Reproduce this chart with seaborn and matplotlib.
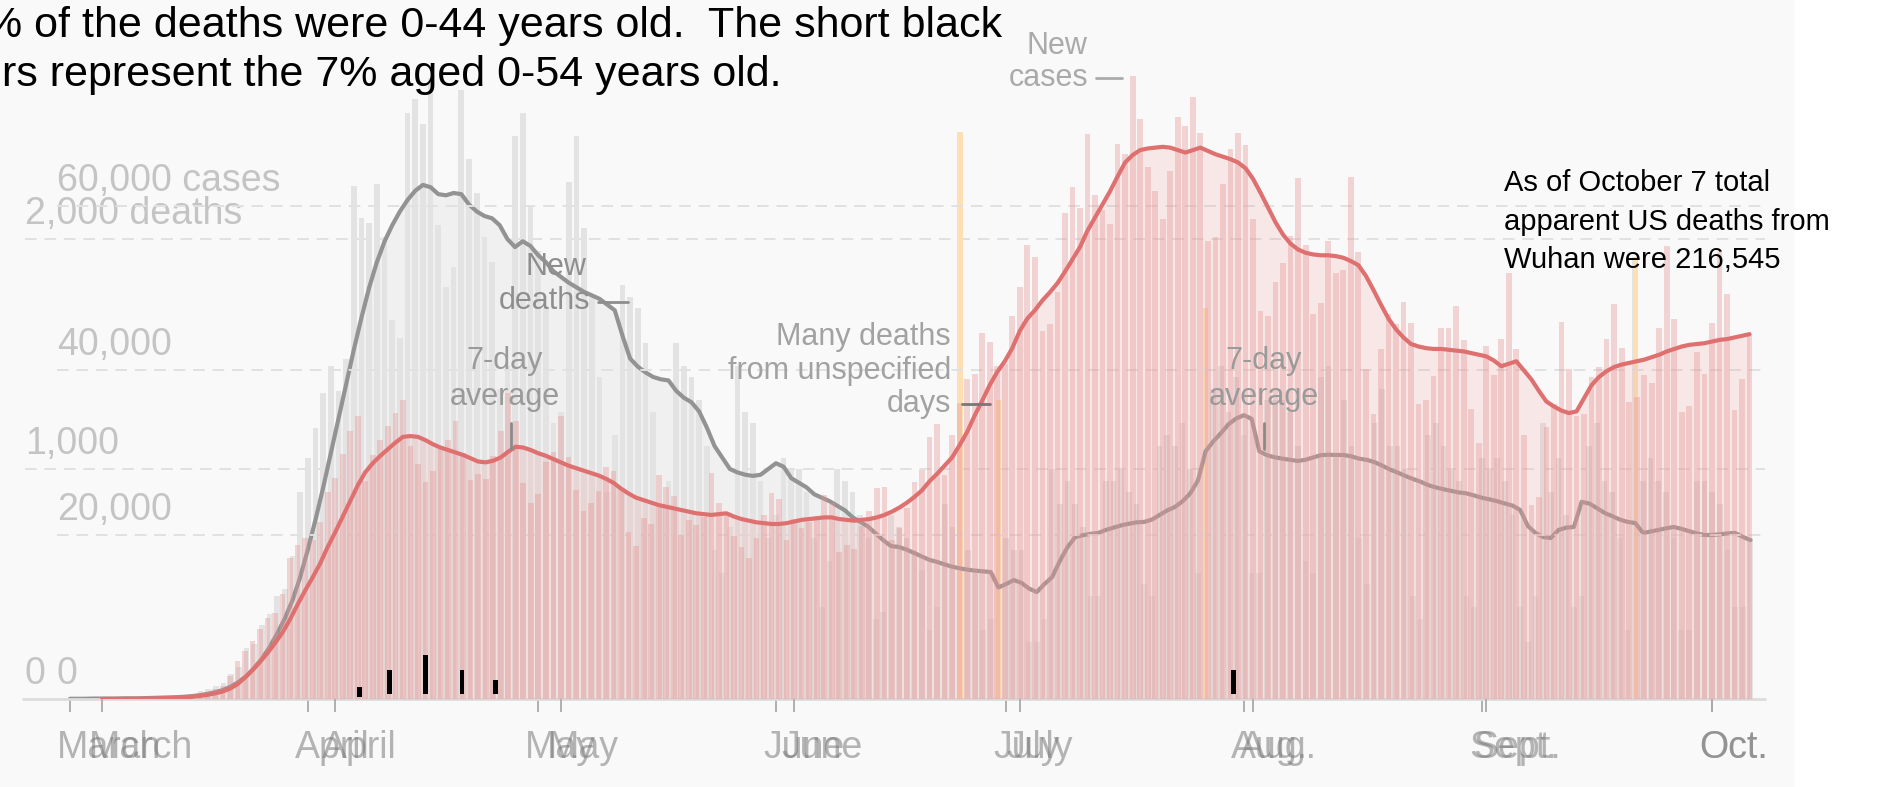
import numpy as np
import seaborn as sns
import matplotlib.pyplot as plt
from matplotlib import transforms
from matplotlib.lines import Line2D

# day 0 = March 1 2020 (a Sunday), last day = Oct. 6
month_starts = [0, 31, 61, 92, 122, 153, 184, 214]
month_names = ["March", "April", "May", "June", "July", "Aug.", "Sept.", "Oct."]

cases_daily = [
    10, 20, 20, 30, 50, 80, 100,
    110, 170, 250, 320, 430, 600, 700,
    800, 1200, 1600, 2800, 4600, 5800, 7000,
    8500, 9900, 10500, 12800, 17200, 18700, 19600,
    19400, 21500, 25200, 26900, 29800, 32600, 34400,
    26500, 29700, 31500, 33200, 34800, 36400, 30800,
    28600, 26400, 27800, 30700, 31500, 33800, 29900,
    26600, 27400, 26800, 29600, 32600, 37200, 33800,
    26300, 23900, 24900, 28800, 30100, 34500, 29400,
    25400, 22900, 23800, 25300, 28200, 27800, 25600,
    20300, 18600, 22000, 21300, 27200, 25800, 24700,
    19900, 21800, 21200, 22200, 27500, 23800, 22600,
    19800, 18500, 17100, 19600, 22400, 25100, 24300,
    19400, 21900, 20800, 21500, 22100, 24800, 23800,
    17900, 18700, 18300, 21000, 22900, 25700, 25800,
    19400, 20800, 23300, 26400, 27900, 31900, 33500,
    27200, 32100, 36000, 38900, 39600, 44600, 43400,
    40500, 40800, 46600, 50100, 55200, 53800, 44800,
    45600, 49500, 59200, 62300, 59700, 68800, 61300,
    59500, 57800, 67600, 66300, 75800, 70600, 64800,
    61800, 58400, 64300, 70800, 69700, 73300, 68900,
    55700, 56200, 62700, 66900, 68900, 67400, 58400,
    47200, 46600, 50700, 53100, 56400, 63400, 55300,
    46800, 48200, 55700, 51900, 52200, 63500, 54400,
    40200, 34700, 42600, 46900, 45600, 48300, 45800,
    35900, 36400, 39300, 45200, 45100, 47800, 43700,
    35300, 31200, 42900, 39400, 43800, 51800, 42600,
    32100, 23600, 24600, 33100, 35900, 45900, 40100,
    34500, 34700, 39200, 40400, 43800, 48100, 42700,
    36200, 36800, 39400, 38500, 45100, 55100, 46200,
    34900, 35600, 42200, 39600, 45800, 54400, 49300,
    35200, 38900, 44400,
]

cases_avg = [
    5, 8, 12, 17, 22, 35, 50,
    65, 85, 110, 150, 200, 280, 380,
    500, 680, 900, 1250, 1800, 2600, 3500,
    4500, 5600, 6800, 8100, 9700, 11500, 13200,
    14800, 16500, 18500, 20300, 22200, 24100, 26000,
    27600, 28700, 29600, 30400, 31200, 31900, 32000,
    31900, 31500, 31000, 30600, 30300, 30000, 29700,
    29300, 28900, 28800, 29000, 29400, 30100, 30700,
    30600, 30300, 29900, 29600, 29200, 28800, 28400,
    28100, 27800, 27500, 27200, 26800, 26300, 25600,
    25000, 24500, 24200, 23900, 23600, 23400, 23200,
    23000, 22800, 22600, 22500, 22400, 22500, 22600,
    22200, 21900, 21700, 21500, 21400, 21300, 21300,
    21400, 21600, 21800, 21900, 22000, 22100, 22100,
    21900, 21800, 21700, 21800, 21900, 22100, 22400,
    22800, 23300, 23900, 24600, 25400, 26500, 27400,
    28400, 29400, 30900, 32500, 34500, 36300, 38200,
    39800, 41100, 42700, 44800, 46300, 47300, 48500,
    49500, 50600, 52000, 53500, 55000, 57000, 58600,
    60200, 61800, 63600, 65300, 66200, 66800, 67000,
    67100, 67200, 67100, 66800, 66500, 66800, 67100,
    66700, 66300, 66000, 65700, 65300, 64600, 63300,
    61600, 59800, 58000, 56500, 55400, 54700, 54300,
    54100, 54000, 54000, 53900, 53700, 53300, 52800,
    51500, 49800, 48000, 46300, 45000, 44000, 43200,
    42900, 42700, 42600, 42600, 42500, 42400, 42300,
    42100, 41900, 41700, 41200, 40500, 40800, 41100,
    40000, 38900, 37500, 36200, 35600, 35100, 34800,
    35000, 36600, 38200, 39200, 39900, 40400, 40700,
    40900, 41100, 41300, 41600, 41900, 42300, 42600,
    42900, 43100, 43200, 43300, 43500, 43700, 43800,
    44000, 44200, 44400,
]

deaths_daily = [
    1, 1, 3, 2, 1, 2, 3,
    4, 4, 5, 7, 7, 9, 11,
    11, 18, 23, 36, 45, 55, 70,
    110, 140, 220, 240, 320, 370, 450,
    480, 620, 900, 1050, 1180, 1330, 1450,
    1340, 1480, 2230, 2090, 2070, 2240, 2010,
    1650, 1570, 2550, 2610, 2500, 2700, 2060,
    1790, 1880, 2650, 2350, 2200, 2010, 1900,
    1350, 1450, 2450, 2550, 2150, 1950, 1700,
    1200, 1250, 2250, 2450, 2050, 1750, 1400,
    900, 1150, 1800, 1750, 1700, 1550, 1250,
    850, 950, 1550, 1450, 1400, 1300, 1100,
    650, 550, 750, 1450, 1250, 1200, 950,
    700, 800, 1050, 1000, 1000, 900, 700,
    400, 600, 1000, 950, 900, 800, 700,
    350, 380, 800, 750, 700, 650, 560,
    300, 400, 850, 750, 2465, 650, 550,
    300, 350, 1300, 700, 650, 650, 250,
    250, 350, 1000, 850, 950, 850, 750,
    450, 450, 950, 950, 1000, 900, 850,
    500, 450, 1100, 1150, 1100, 1200, 1000,
    550, 1700, 1350, 1450, 1250, 1400, 1150,
    550, 550, 1300, 1300, 1300, 1250, 1100,
    600, 550, 1400, 1450, 1050, 1300, 1100,
    700, 500, 1200, 1350, 1100, 1100, 1000,
    450, 350, 1150, 1200, 1100, 1000, 950,
    450, 400, 1050, 1000, 1050, 950, 800,
    400, 250, 450, 1200, 900, 1050, 800,
    400, 450, 1100, 1200, 950, 900, 700,
    300, 1920, 950, 1050, 950, 900, 700,
    300, 300, 950, 950, 900, 850, 650,
    400, 400, 700,
]

deaths_avg = [
    1, 1, 1, 2, 2, 2, 2,
    3, 3, 3, 4, 5, 6, 7,
    8, 10, 13, 17, 23, 30, 40,
    55, 75, 100, 135, 175, 225, 285,
    350, 430, 530, 650, 780, 920, 1070,
    1220, 1370, 1520, 1660, 1790, 1900, 1990,
    2060, 2120, 2170, 2210, 2235, 2225, 2195,
    2190, 2200, 2195, 2150, 2120, 2100, 2090,
    2060, 2000, 1965, 1990, 1970, 1930, 1900,
    1860, 1835, 1810, 1790, 1770, 1755, 1740,
    1715, 1690, 1580, 1480, 1445, 1420, 1400,
    1390, 1385, 1340, 1310, 1290, 1250, 1180,
    1100, 1050, 1000, 985, 975, 970, 975,
    1000, 1025, 1010, 960, 940, 920, 890,
    875, 860, 840, 820, 790, 770, 750,
    720, 690, 665, 661, 650, 635, 620,
    605, 596, 585, 575, 568, 562, 558,
    555, 552, 485, 500, 517, 505, 480,
    465, 500, 530, 600, 660, 704, 712,
    718, 722, 735, 745, 755, 762, 768,
    770, 780, 800, 820, 835, 860, 894,
    950, 1077, 1120, 1156, 1195, 1220, 1234,
    1218, 1077, 1060, 1051, 1045, 1040, 1035,
    1040, 1050, 1060, 1062, 1061, 1061, 1055,
    1045, 1040, 1030, 1015, 998, 985, 970,
    957, 945, 930, 920, 912, 905, 898,
    894, 885, 875, 868, 860, 850, 841,
    822, 752, 722, 704, 700, 735, 745,
    748, 857, 850, 830, 809, 795, 780,
    770, 765, 722, 728, 735, 742, 748,
    740, 730, 720, 713, 713, 716, 720,
    722, 705, 691,
]

# deaths from unspecified days (orange bars)
backlog_days = [116, 121, 148, 204]
backlog_deaths = [2465, 1300, 1700, 1920]

# short black bars (deaths aged 0-54), deaths-chart days
young_days = [37.7, 41.6, 46.3, 51.1, 55.5, 151.6]
young_low = [8, 20, 20, 20, 20, 20]
young_high = [52, 126, 191, 126, 83, 126]

cases_ticks = [0, 20000, 40000, 60000]
cases_ticklabels = ["0", "20,000", "40,000", "60,000 cases"]
deaths_ticks = [0, 1000, 2000]
deaths_ticklabels = ["0", "1,000", "2,000 deaths"]

sns.set_theme(style="white")
plt.rcParams['font.family'] = ['Liberation Sans', 'DejaVu Sans']

W, H = 1887, 787
fig = plt.figure(figsize=(W / 100, H / 100), dpi=100)
fig.patch.set_facecolor('white')
fig.add_artist(plt.Rectangle((0, 0), 1793 / W, 1, transform=fig.transFigure,
                             color='#f9f9f9', zorder=-10))

# plot box in pixels and the two charts' day/value scales
L, R, T, B = 20, 1765, 60, 699
D0_PX, D_STEP = 70, 7.673
C0_PX, C_STEP = 102, 7.523
D_PER_PX, C_PER_PX = 0.2300, 0.008217

box = [L / W, 1 - B / H, (R - L) / W, (B - T) / H]
axd = fig.add_axes(box)
axc = fig.add_axes(box)

days = np.arange(len(cases_daily))

# deaths chart (underneath)
axd.fill_between(days, deaths_avg, color='#f0f0f0', lw=0, zorder=1)
sns.barplot(x=days, y=deaths_daily, native_scale=True, width=0.74, color='#e3e3e3',
            saturation=1, errorbar=None, linewidth=0, ax=axd, zorder=2)
axd.bar(backlog_days, backlog_deaths, width=0.7, color='#fce0b4', lw=0, zorder=3)
sns.lineplot(x=days, y=deaths_avg, color='#939393', lw=3, ax=axd, zorder=4)

# cases chart (on top)
axc.fill_between(days, cases_avg, color='#f0a0a0', alpha=0.2, lw=0, zorder=1)
sns.barplot(x=days, y=cases_daily, native_scale=True, width=0.76, color='#e79292',
            alpha=0.36, saturation=1, errorbar=None, linewidth=0, ax=axc, zorder=2)
sns.lineplot(x=days, y=cases_avg, color='#df7070', lw=3, ax=axc, zorder=4)

axc.bar(young_days, np.subtract(young_high, young_low), bottom=young_low, width=0.62,
        color='black', lw=0, zorder=8, transform=axd.transData)

axd.set_xlim((L - D0_PX) / D_STEP, (R - D0_PX) / D_STEP)
axc.set_xlim((L - C0_PX) / C_STEP, (R - C0_PX) / C_STEP)
axd.set_ylim(0, (B - T) / D_PER_PX)
axc.set_ylim(0, (B - T) / C_PER_PX)

# gridlines
for v in deaths_ticks[1:]:
    axd.axhline(v, xmin=(25 - L) / (R - L), xmax=1, color='#e1e1e1', lw=1.4,
                ls=(0, (6, 4)), zorder=0.5)
for v in cases_ticks[1:]:
    axc.axhline(v, xmin=(57 - L) / (R - L), xmax=1, color='#e1e1e1', lw=1.4,
                ls=(0, (6, 4)), zorder=0.5)
axd.axhline(0, xmin=(23 - L) / (R - L), xmax=1, color='#dcdcdc', lw=2, zorder=5,
            clip_on=False)

shift = transforms.ScaledTranslation(-13 / 100, 0, fig.dpi_scale_trans)
for a in (axd, axc):
    a.set_facecolor('none')
    for s in a.spines.values():
        s.set_visible(False)
    a.set_xlabel('')
    a.set_ylabel('')
    a.set_yticks([])
    a.set_xticks(month_starts)
    a.set_xticklabels(month_names, ha='left')
    a.tick_params(axis='x', direction='out', length=9.5, width=1.3, color='#aaaaaa',
                  pad=13, labelsize=27, bottom=True)
    for lab in a.get_xticklabels():
        lab.set_transform(lab.get_transform() + shift)
        lab.set_color('#7a7a7a')
        lab.set_alpha(0.55)

# y labels
def ylabels(ax, xpx, values, labels):
    tr = transforms.blended_transform_factory(fig.transFigure, ax.transData)
    tr = transforms.offset_copy(tr, fig=fig, x=0, y=15, units='dots')
    for v, s in zip(values, labels):
        ax.text(xpx / W, v, s, transform=tr, ha='left', va='baseline', fontsize=27,
                color='#c4c4c4', zorder=9)

ylabels(axd, 25, deaths_ticks, deaths_ticklabels)
ylabels(axc, 57, cases_ticks, cases_ticklabels)


def ftext(x, y, s, **kw):
    fig.text(x / W, 1 - y / H, s, **kw)


def fline(x1, y1, x2, y2, **kw):
    fig.add_artist(Line2D([x1 / W, x2 / W], [1 - y1 / H, 1 - y2 / H],
                          transform=fig.transFigure, **kw))

# chart annotations
gray_kw = dict(fontsize=22, va='center')
ftext(556, 267, "New", ha='center', color='#8e8e8e', **gray_kw)
ftext(545, 301, "deaths", ha='center', color='#8e8e8e', **gray_kw)
fline(598, 302, 628, 302, color='#8e8e8e', lw=2)
ftext(505, 361, "7-day", ha='center', color='#9a9a9a', **gray_kw)
ftext(505, 397, "average", ha='center', color='#9a9a9a', **gray_kw)
fline(511, 423, 511, 449, color='#8a8a8a', lw=2)
ftext(951, 337, "Many deaths", ha='right', color='#a2a2a2', **gray_kw)
ftext(951, 371, "from unspecified", ha='right', color='#a2a2a2', **gray_kw)
ftext(951, 404, "days", ha='right', color='#a2a2a2', **gray_kw)
fline(962, 404, 990, 404, color='#777777', lw=2)
ftext(1264, 361, "7-day", ha='center', color='#9a9a9a', **gray_kw)
ftext(1264, 397, "average", ha='center', color='#9a9a9a', **gray_kw)
fline(1264, 423, 1264, 449, color='#8a8a8a', lw=2)
ftext(1057, 46, "New", ha='center', color='#aaaaaa', **gray_kw)
ftext(1088, 78, "cases", ha='right', color='#aaaaaa', **gray_kw)
fline(1096, 78, 1122, 78, color='#aaaaaa', lw=2)

# black notes
ftext(-16, 37, "% of the deaths were 0-44 years old.  The short black", ha='left',
      va='baseline', fontsize=31, color='black')
ftext(2, 86, "rs represent the 7% aged 0-54 years old.", ha='left', va='baseline',
      fontsize=31, color='black')
ftext(1504, 191, "As of October 7 total", ha='left', va='baseline', fontsize=21,
      color='black')
ftext(1504, 230, "apparent US deaths from", ha='left', va='baseline', fontsize=21,
      color='black')
ftext(1504, 268, "Wuhan were 216,545", ha='left', va='baseline', fontsize=21,
      color='black')

fig.savefig("out.png", dpi=100, facecolor=fig.get_facecolor())
